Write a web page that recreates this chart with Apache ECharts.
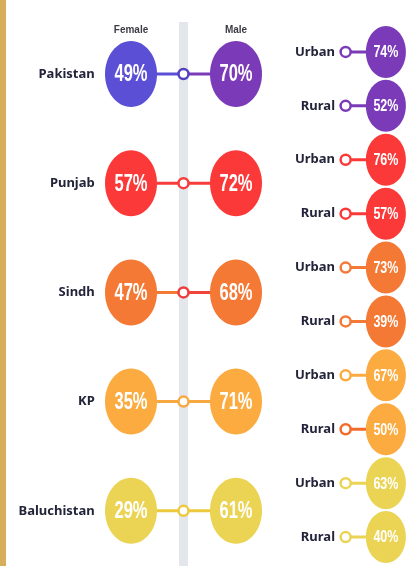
<!DOCTYPE html>
<html>
<head>
    <meta charset="utf-8">
    <title>Literacy rate</title>
    <script src="https://cdn.jsdelivr.net/npm/echarts@6/dist/echarts.min.js"></script>
    <style>
        html, body { margin: 0; padding: 0; background: #fff; }
        #chart { width: 406px; height: 566px; }
    </style>
</head>
<body>
<div id="chart"></div>
<script type="text/javascript">
    // data
    const regions = ['Pakistan', 'Punjab', 'Sindh', 'KP', 'Baluchistan'];
    const genders = ['Female', '', 'Male'];
    const female = [49, 57, 47, 35, 29];
    const male = [70, 72, 68, 71, 61];
    const areas = ['Urban', 'Rural'];
    const urban = [74, 76, 73, 67, 63];
    const rural = [52, 57, 39, 50, 40];

    // palette
    const femaleColors = ['#5a4fd5', '#fc3939', '#f47935', '#fbab3f', '#ebd454'];
    const maleColors = ['#7b3bb8', '#fc3939', '#f47935', '#fbab3f', '#ebd454'];
    const linkLeft = ['#5a4fd5', '#f63c3c', '#f47935', '#f8a840', '#ecc93e'];
    const linkRight = ['#7b3bb8', '#f63c3c', '#f0433a', '#f8a840', '#ecc93e'];
    const ringColors = ['#5240c4', '#f63c3c', '#ef3b3b', '#f8a840', '#ecc93e'];
    const subColors = ['#7b3bb8', '#fc3939', '#f47935', '#fbab3f', '#ebd454'];
    const ruralLink = ['#7b3bb8', '#fc3939', '#f47935', '#f26b2a', '#ebd454'];

    const subKeys = [];
    regions.forEach(r => areas.forEach(a => subKeys.push(r + ' ' + a)));

    // ellipse with a condensed white percentage inside
    function bubble(rx, ry, fontSize, squeeze, colorOf) {
        return function (params, api) {
            const p = api.coord([api.value(0), api.value(1)]);
            return {
                type: 'group',
                children: [{
                    type: 'ellipse',
                    shape: {cx: p[0], cy: p[1], rx: rx, ry: ry},
                    style: {fill: colorOf(params.dataIndex)}
                }, {
                    type: 'text',
                    x: p[0], y: p[1] + 1,
                    scaleX: squeeze,
                    style: {
                        text: api.value(2) + '%',
                        fill: '#fff',
                        font: 'bold ' + fontSize + 'px "Liberation Sans", Arial, sans-serif',
                        align: 'center',
                        verticalAlign: 'middle'
                    }
                }]
            };
        };
    }

    const series = [];

    // main connectors with the ring in the middle
    regions.forEach((r, i) => {
        series.push({
            type: 'line',
            xAxisIndex: 0, yAxisIndex: 0,
            z: 3,
            silent: true,
            lineStyle: {
                width: 3,
                color: new echarts.graphic.LinearGradient(0, 0, 1, 0, [
                    {offset: 0, color: linkLeft[i]}, {offset: 0.5, color: linkLeft[i]},
                    {offset: 0.5, color: linkRight[i]}, {offset: 1, color: linkRight[i]}
                ])
            },
            data: [
                {value: [0, i], symbol: 'none'},
                {value: [1, i], symbol: 'circle', symbolSize: 10,
                    itemStyle: {color: '#fff', borderColor: ringColors[i], borderWidth: 2.5}},
                {value: [2, i], symbol: 'none'}
            ]
        });
    });

    series.push({
        name: 'Female', type: 'custom', xAxisIndex: 0, yAxisIndex: 0, z: 5,
        renderItem: bubble(26, 33, 23, 0.72, i => femaleColors[i]),
        encode: {x: 0, y: 1},
        data: female.map((v, i) => [0, i, v])
    });
    series.push({
        name: 'Male', type: 'custom', xAxisIndex: 0, yAxisIndex: 0, z: 5,
        renderItem: bubble(26, 33, 23, 0.72, i => maleColors[i]),
        encode: {x: 0, y: 1},
        data: male.map((v, i) => [2, i, v])
    });

    // urban / rural connectors
    subKeys.forEach((k, j) => {
        const i = Math.floor(j / 2);
        const c = j % 2 === 0 ? subColors[i] : ruralLink[i];
        series.push({
            type: 'line',
            xAxisIndex: 1, yAxisIndex: 1,
            z: 3,
            silent: true,
            lineStyle: {width: 3, color: c},
            data: [
                {value: [0, j], symbol: 'circle', symbolSize: 10,
                    itemStyle: {color: '#fff', borderColor: c, borderWidth: 2.5}},
                {value: [1, j], symbol: 'none'}
            ]
        });
    });

    const subData = [];
    regions.forEach((r, i) => {
        subData.push([1, 2 * i, urban[i]]);
        subData.push([1, 2 * i + 1, rural[i]]);
    });
    series.push({
        name: 'Area', type: 'custom', xAxisIndex: 1, yAxisIndex: 1, z: 5,
        renderItem: bubble(20, 26, 16, 0.78, j => subColors[Math.floor(j / 2)]),
        encode: {x: 0, y: 1},
        data: subData
    });

    const textFont = {
        color: '#23233a',
        fontFamily: '"Noto Sans", sans-serif',
        fontWeight: 'bold',
        fontSize: 13
    };

    let myChart = echarts.init(document.getElementById('chart'));
    myChart.setOption({
        animation: false,
        backgroundColor: '#fff',
        grid: [
            {left: 104.75, width: 157.5, top: 19.4, height: 546},
            {left: 325.5, width: 86, top: 25, height: 539}
        ],
        xAxis: [{
            type: 'category', gridIndex: 0, position: 'top',
            data: genders,
            axisLine: {show: false}, axisTick: {show: false}, splitLine: {show: false},
            axisLabel: {
                margin: -16, color: '#3c3c46',
                fontFamily: '"Liberation Sans", Arial, sans-serif',
                fontWeight: 'bold', fontSize: 10
            }
        }, {
            type: 'category', gridIndex: 1,
            data: ['ring', 'value'],
            show: false
        }],
        yAxis: [{
            type: 'category', gridIndex: 0, inverse: true,
            data: regions,
            axisLine: {show: false}, axisTick: {show: false}, splitLine: {show: false},
            axisLabel: Object.assign({margin: 10}, textFont)
        }, {
            type: 'category', gridIndex: 1, inverse: true,
            data: subKeys,
            axisLine: {show: false}, axisTick: {show: false}, splitLine: {show: false},
            axisLabel: Object.assign({margin: -9.5, formatter: v => v.split(' ').pop()}, textFont)
        }],
        series: series
    });

    // decoration: gold edge and the grey centre band behind the rings
    const bandX = myChart.convertToPixel({xAxisIndex: 0}, 1) - 4.5;
    myChart.setOption({
        graphic: [
            {type: 'rect', z: -10, shape: {x: 0, y: 0, width: 6, height: 566}, style: {fill: '#d7ae5b'}},
            {type: 'rect', z: -10, shape: {x: bandX, y: 22, width: 9, height: 544}, style: {fill: '#e3e6ea'}}
        ]
    });
</script>
</body>
</html>
